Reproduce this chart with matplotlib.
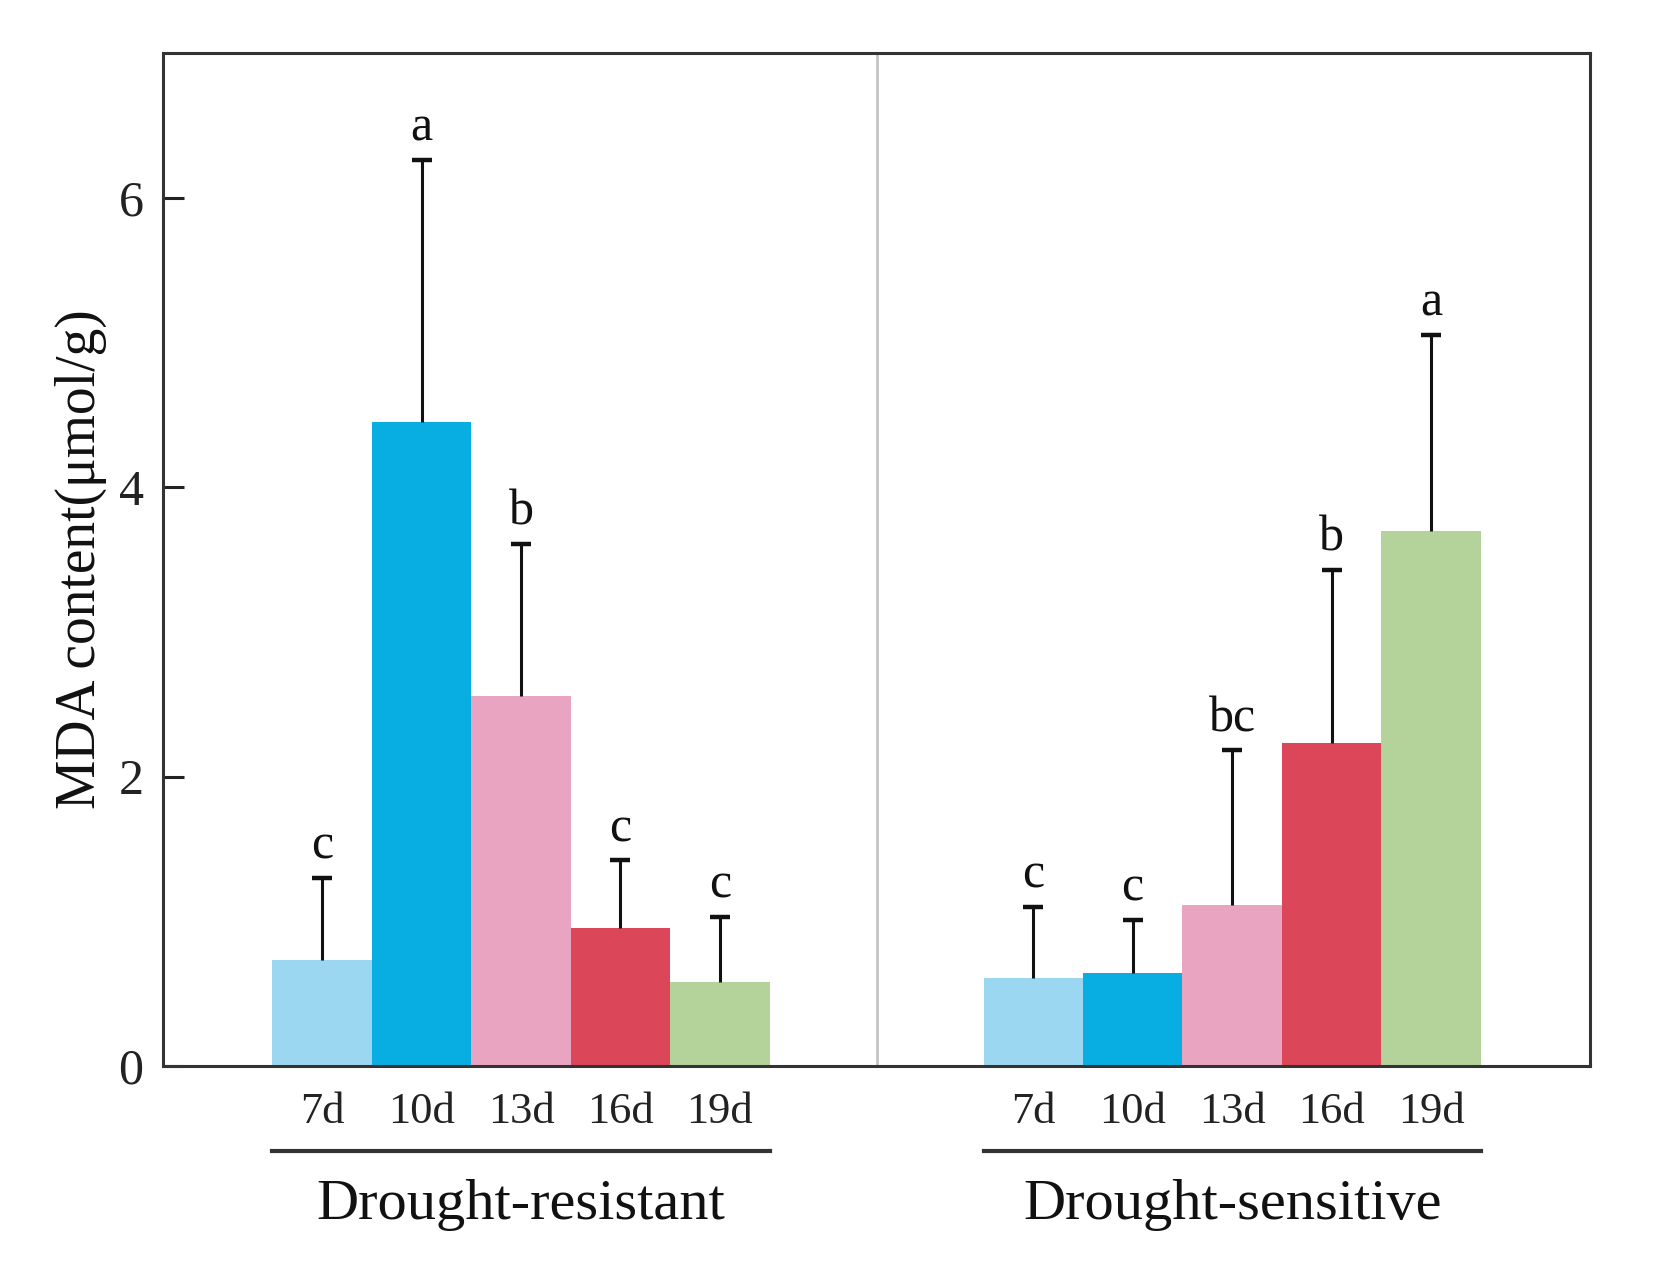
import matplotlib.pyplot as plt
from matplotlib import transforms

plt.rcParams['font.family'] = ['Liberation Serif', 'DejaVu Serif']

days = ["7d", "10d", "13d", "16d", "19d"]
colors = ["#9BD7F1", "#08AEE1", "#E9A4C1", "#DB4759", "#B3D39A"]

resistant_mean = [0.73, 4.45, 2.56, 0.95, 0.58]
resistant_top = [1.30, 6.26, 3.61, 1.42, 1.03]
resistant_sig = ["c", "a", "b", "c", "c"]

sensitive_mean = [0.61, 0.64, 1.11, 2.23, 3.70]
sensitive_top = [1.10, 1.01, 2.18, 3.43, 5.05]
sensitive_sig = ["c", "c", "bc", "b", "a"]

groups = ["Drought-resistant", "Drought-sensitive"]
group_start = [1.1, 8.25]

fig = plt.figure(figsize=(16.53, 12.82), dpi=100)
ax = fig.add_axes([0.0986, 0.1685, 0.8634, 0.7902])

trans = transforms.blended_transform_factory(ax.transData, ax.transAxes)

for g, (means, tops, sig) in enumerate([(resistant_mean, resistant_top, resistant_sig),
                                        (sensitive_mean, sensitive_top, sensitive_sig)]):
    xs = [group_start[g] + 0.5 + i for i in range(len(days))]
    errs = [t - m for t, m in zip(tops, means)]
    ax.bar(xs, means, width=1.0, color=colors, linewidth=0, zorder=2)
    eb = ax.errorbar(xs, means, yerr=[[0] * len(errs), errs], fmt="none", ecolor="#111111",
                     elinewidth=2.2, capsize=7.5, capthick=3.2, zorder=3)
    # only the upper cap is drawn in the original
    eb[1][0].set_visible(False)
    for x, t, s in zip(xs, tops, sig):
        ax.annotate(s, (x, t), xytext=(0, 6), textcoords="offset points",
                    ha="center", va="bottom", fontsize=36, color="#111111")
    for x, d in zip(xs, days):
        ax.text(x, -0.045, d, transform=trans, ha="center", va="center",
                fontsize=32, color="#222222")
    ax.plot([group_start[g], group_start[g] + len(days)], [-0.084, -0.084],
            transform=trans, color="#333333", lw=3, clip_on=False)
    ax.text(group_start[g] + len(days) / 2, -0.137, groups[g], transform=trans,
            ha="center", va="center", fontsize=42, color="#111111")

ax.axvline(7.175, color="#c4c4c4", lw=2, zorder=1)

ax.set_xlim(0, 14.35)
ax.set_ylim(0, 7.0)
ax.set_xticks([])
ax.set_yticks([0, 2, 4, 6])
ax.tick_params(axis="y", direction="in", length=15, width=2.2, labelsize=36,
               pad=14, colors="#222222")
for sp in ax.spines.values():
    sp.set_linewidth(2.2)
    sp.set_color("#333333")

ax.set_ylabel("MDA content(μmol/g)", fontsize=40, color="#111111", labelpad=8)

fig.savefig("out.png", dpi=100)
